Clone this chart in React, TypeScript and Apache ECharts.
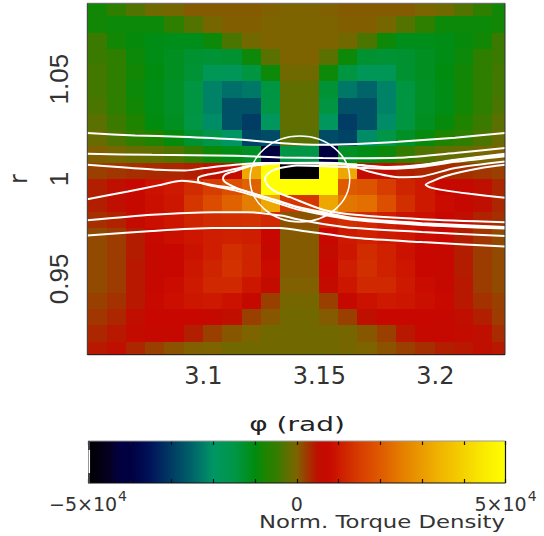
import React, { useEffect, useRef } from "react";
import * as echarts from "echarts";

const phiEdges = [3.05, 3.0583, 3.0666, 3.0749, 3.0832, 3.0916, 3.0999, 3.1082, 3.1165, 3.1248, 3.1331, 3.1415, 3.1498, 3.1581, 3.1664, 3.1747, 3.183, 3.1914, 3.1997, 3.208, 3.2163, 3.2246, 3.23];
const rEdges = [1.088, 1.08145, 1.07331, 1.06516, 1.05702, 1.04887, 1.04073, 1.03258, 1.02444, 1.01629, 1.00815, 1.0, 0.99185, 0.98371, 0.97556, 0.96742, 0.95927, 0.95113, 0.94298, 0.93484, 0.92669, 0.91855, 0.912];

// torque density, in units of 1e4, rows from the top of the plot
const torqueUnit = 10000;
const torqueRows = [
  [-0.85, -0.55, -0.3, -0.1, -0.05, 0.05, 0.05, 0.05, 0.05, 0.02, 0, 0, 0.02, 0.05, 0.05, 0.05, 0.05, -0.02, -0.1, -0.3, -0.55, -0.85],
  [-0.85, -0.9, -0.9, -0.9, -0.55, -0.3, -0.05, 0.03, 0.03, 0, 0, 0, 0, 0.03, 0.03, -0.05, -0.3, -0.55, -0.9, -0.9, -0.9, -0.85],
  [-0.45, -0.85, -0.95, -1.05, -1.1, -1.1, -0.9, -0.35, -0.08, 0, 0, 0, 0, -0.08, -0.35, -0.9, -1.1, -1.1, -1.05, -0.95, -0.85, -0.45],
  [-0.45, -0.55, -0.9, -1.05, -1.15, -1.3, -1.35, -1.3, -0.9, -0.25, 0, 0, -0.25, -0.9, -1.3, -1.35, -1.3, -1.15, -1.05, -0.9, -0.55, -0.45],
  [-0.4, -0.55, -0.85, -1, -1.15, -1.35, -1.75, -1.8, -1.45, -0.9, -0.1, -0.1, -0.9, -1.45, -1.8, -1.75, -1.3, -1.15, -1, -0.85, -0.55, -0.4],
  [-0.4, -0.55, -0.9, -1.05, -1.2, -1.45, -2.2, -2.4, -2.3, -1.45, -0.2, -0.2, -1.35, -2.3, -2.5, -2.2, -1.45, -1.2, -1.05, -0.85, -0.55, -0.4],
  [-0.35, -0.55, -0.85, -1.05, -1.2, -1.45, -2.2, -2.75, -2.75, -1.5, -0.2, -0.2, -1.45, -2.75, -2.75, -2.2, -1.45, -1.2, -1.05, -0.85, -0.55, -0.35],
  [-0.25, -0.45, -0.75, -1, -1.15, -1.5, -2.1, -2.75, -3, -1.9, -0.2, -0.2, -1.9, -3, -2.75, -2.1, -1.45, -1.15, -0.95, -0.75, -0.45, -0.25],
  [-0.15, -0.35, -0.55, -0.75, -0.95, -1.3, -1.55, -2, -2.9, -2.8, -0.25, -0.25, -2.8, -2.9, -2.1, -1.5, -1.2, -0.95, -0.75, -0.55, -0.35, -0.15],
  [0.03, -0.05, -0.15, -0.2, -0.3, -0.5, -0.9, -1.05, -1.2, -4, -1.5, -1.5, -4, -1.2, -1.05, -0.9, -0.5, -0.3, -0.2, -0.15, -0.05, 0.03],
  [0.2, 0.25, 0.3, 0.33, 0.35, 0.4, 0.5, 0.65, 3.2, 5, -5, -5, 5, 3.2, 0.65, 0.55, 0.4, 0.35, 0.33, 0.3, 0.25, 0.2],
  [0.4, 0.5, 0.75, 0.9, 1, 1.25, 1.5, 1.8, 2.1, 5, 5, 5, 5, 2, 1.9, 1.5, 1.15, 1, 0.75, 0.7, 0.5, 0.35],
  [0.4, 0.5, 0.7, 0.85, 0.95, 1.4, 1.75, 2.1, 2.5, 3.2, 1.4, 1.4, 3.2, 2.4, 2.3, 1.8, 1.3, 1, 0.8, 0.7, 0.5, 0.35],
  [0.3, 0.38, 0.65, 0.85, 0.95, 1.15, 1.25, 1.3, 1.35, 1.2, 0.1, 0.1, 1.15, 1.3, 1.2, 1.05, 0.9, 0.85, 0.75, 0.55, 0.38, 0.3],
  [0.15, 0.22, 0.42, 0.72, 0.85, 0.95, 1.05, 1.1, 1.05, 0.75, 0.05, 0.05, 0.75, 1, 1.1, 1, 0.95, 0.8, 0.72, 0.42, 0.25, 0.15],
  [0.15, 0.22, 0.42, 0.7, 0.75, 0.9, 1.05, 1.3, 1.15, 0.7, 0.05, 0.05, 0.65, 0.95, 1.25, 1.1, 0.9, 0.75, 0.7, 0.42, 0.22, 0.15],
  [0.15, 0.22, 0.45, 0.7, 0.75, 0.95, 1.15, 1.35, 1.15, 0.8, 0.05, 0.05, 0.75, 1.05, 1.3, 1.1, 0.95, 0.75, 0.7, 0.42, 0.22, 0.15],
  [0.15, 0.22, 0.45, 0.7, 0.8, 1, 1.2, 1.2, 0.95, 0.65, 0.02, 0.02, 0.65, 0.95, 1.2, 1.2, 1, 0.8, 0.7, 0.45, 0.22, 0.15],
  [0.2, 0.28, 0.45, 0.72, 0.85, 0.95, 1, 0.9, 0.7, 0.2, -0.05, -0.05, 0.2, 0.7, 0.9, 1, 0.95, 0.85, 0.72, 0.45, 0.28, 0.2],
  [0.25, 0.35, 0.55, 0.75, 0.75, 0.75, 0.7, 0.55, 0.2, 0.07, -0.08, -0.08, 0.05, 0.2, 0.5, 0.75, 0.75, 0.75, 0.7, 0.55, 0.4, 0.22],
  [0.35, 0.45, 0.65, 0.7, 0.7, 0.4, 0.2, 0.07, 0, -0.08, -0.08, -0.08, -0.08, -0.05, 0.07, 0.2, 0.45, 0.7, 0.7, 0.65, 0.5, 0.32],
  [0.45, 0.5, 0.35, 0.2, 0.1, 0.02, 0, -0.08, -0.08, -0.08, -0.08, -0.08, -0.08, -0.05, 0, 0.1, 0.2, 0.3, 0.4, 0.45, 0.5, 0.45],
];

// colour table, evenly spaced from -5e4 to +5e4
const colorTable = [
  "#000000", "#020010", "#050020", "#030040", "#000041", "#00084E", "#00145A", "#00285F", "#003C64", "#005066",
  "#006469", "#007D68", "#009664", "#009655", "#009646", "#00912B", "#008C0F", "#1E8400", "#327D00", "#5A7000",
  "#7D6400", "#A03700", "#BE0F00", "#C80800", "#CD1900", "#D12C00", "#D73C00", "#DB4B00", "#DE5A00", "#E16C00",
  "#E47D00", "#E78C00", "#EB9B00", "#EDAA00", "#F0B900", "#F2C400", "#F5D200", "#F7DE00", "#FAEB00", "#FCF500", "#FFFF00",
];

// white field lines as [phi, r]
const fieldLines: number[][][] = [
  [[3.05, 1.023], [3.0706, 1.0218], [3.0899, 1.0212], [3.1136, 1.0199], [3.1343, 1.0179], [3.1503, 1.0171], [3.1662, 1.0175], [3.1839, 1.0186], [3.2085, 1.0207], [3.23, 1.023]],
  [[3.05, 1.0126], [3.0779, 1.0121], [3.1136, 1.0116], [3.1343, 1.0108], [3.1516, 1.0105], [3.1675, 1.0104], [3.1839, 1.0106], [3.2085, 1.013], [3.23, 1.0155]],
  [[3.05, 1.0071], [3.0632, 1.006], [3.0805, 1.0046], [3.0921, 1.0043], [3.1007, 1.0055], [3.1136, 1.0071], [3.1257, 1.008], [3.1404, 1.0079], [3.1546, 1.0076], [3.1654, 1.0071], [3.1796, 1.006], [3.1942, 1.0071], [3.2085, 1.0096], [3.23, 1.0126]],
  [[3.23, 1.0114], [3.2085, 1.0086], [3.1942, 1.0061], [3.1796, 1.0051], [3.1675, 1.0056], [3.1546, 1.0063], [3.1404, 1.0068], [3.133, 1.0055], [3.1296, 1.0041], [3.1274, 1.0021], [3.1266, 1.0001], [3.127, 0.9981], [3.1287, 0.9956], [3.1317, 0.9933], [3.1373, 0.9909], [3.1516, 0.9846], [3.1654, 0.9821], [3.1942, 0.9799], [3.23, 0.9784]],
  [[3.23, 1.0088], [3.2085, 1.0055], [3.1942, 1.0013], [3.1839, 1.0009], [3.1718, 1.0036], [3.161, 1.0076], [3.1503, 1.0081], [3.133, 1.008], [3.1201, 1.0064], [3.1136, 1.0039], [3.1111, 1.0031], [3.1093, 1.0021], [3.1085, 1.0004], [3.1089, 0.9991], [3.1102, 0.9978], [3.1145, 0.9954], [3.1214, 0.9928], [3.1309, 0.9896], [3.1404, 0.9861], [3.1516, 0.9833], [3.1654, 0.9803], [3.1942, 0.9779], [3.23, 0.976]],
  [[3.23, 1.0121], [3.2085, 1.0094], [3.1942, 1.0069], [3.1796, 1.0058], [3.1654, 1.0071], [3.1503, 1.0079], [3.133, 1.0079], [3.1201, 1.0066], [3.1136, 1.005], [3.1063, 1.0031], [3.1007, 1.0019], [3.098, 1.0009], [3.0977, 0.9994], [3.0986, 0.9981], [3.105, 0.9963], [3.1136, 0.9943], [3.1214, 0.9918], [3.1309, 0.9883], [3.1404, 0.9848], [3.1516, 0.9821], [3.1654, 0.9794], [3.1942, 0.977], [3.23, 0.9752]],
  [[3.05, 0.9899], [3.0675, 0.9937], [3.0805, 0.9968], [3.0908, 0.9991], [3.0977, 0.9983], [3.105, 0.9968], [3.1136, 0.9953], [3.1214, 0.9928], [3.1309, 0.9893], [3.1404, 0.9858], [3.1516, 0.9828], [3.1654, 0.9799], [3.1942, 0.9775], [3.23, 0.9757]],
  [[3.05, 0.9793], [3.0779, 0.9821], [3.1042, 0.9834], [3.1188, 0.9834], [3.1343, 0.9816], [3.1404, 0.9798], [3.1516, 0.9775], [3.1654, 0.9754], [3.1942, 0.9734], [3.23, 0.9715]],
  [[3.05, 0.9717], [3.0779, 0.974], [3.1042, 0.9754], [3.133, 0.9754], [3.1417, 0.9742], [3.1662, 0.9704], [3.1942, 0.9684], [3.23, 0.9662]],
  [[3.23, 1.0071], [3.2192, 1.0054], [3.2106, 1.0034], [3.2041, 1.0014], [3.199, 0.9991], [3.1958, 0.9971], [3.1977, 0.9958], [3.2041, 0.9943], [3.2149, 0.9926], [3.23, 0.9906]],
];

const hillCenter = [3.1416, 1.0];
const hillRadius = 0.0215;

const phiTicks = [3.1, 3.15, 3.2];
const rTicks = [0.95, 1, 1.05];

const LEFT = 87.3, TOP = 3.3, W = 417.7, H = 351.4;
const BAR_LEFT = 88, BAR_TOP = 441, BAR_W = 417.5, BAR_H = 42;

export default function App() {
  const ref = useRef<HTMLDivElement>(null);
  useEffect(() => {
    const chart = echarts.init(ref.current!, undefined, { renderer: "svg" });
    const cells: number[][] = [];
    torqueRows.forEach((row, j) =>
      row.forEach((v, i) => cells.push([phiEdges[i], rEdges[j + 1], phiEdges[i + 1], rEdges[j], v * torqueUnit]))
    );
    const barLabel = (v: number) => {
      if (v === -50000) return "{t|\u22125\u00d710}{s|4}";
      if (v === 50000) return "{t|5\u00d710}{s|4}";
      if (v === 0) return "{t|0}";
      return "";
    };
    const line = (x1: number, y1: number, x2: number, y2: number, stroke: string, lineWidth = 1) => ({
      type: "line", z: 100, silent: true, shape: { x1, y1, x2, y2 }, style: { stroke, lineWidth },
    });
    chart.setOption({
      animation: false,
      backgroundColor: "#ffffff",
      grid: [
        { left: LEFT, top: TOP, width: W, height: H, outerBoundsMode: "none" },
        { left: BAR_LEFT, top: BAR_TOP, width: BAR_W, height: BAR_H, z: 20, outerBoundsMode: "none" },
      ],
      xAxis: [
        {
          type: "value", gridIndex: 0, min: 3.05, max: 3.23, splitLine: { show: false },
          axisLine: { show: false }, axisTick: { show: false },
          axisLabel: { customValues: phiTicks, formatter: (v: number) => String(v), fontFamily: "DejaVu Sans", fontSize: 24, color: "#333", margin: 9, hideOverlap: false },
        },
        {
          type: "value", gridIndex: 1, min: -50000, max: 50000, interval: 10000, z: 20, splitLine: { show: false },
          axisLine: { show: false }, axisTick: { show: true, inside: true, length: 4, lineStyle: { color: "#111", width: 1.2 } },
          axisLabel: {
            formatter: barLabel, margin: 6, color: "#333", fontFamily: "DejaVu Sans", showMinLabel: true, showMaxLabel: true, hideOverlap: false,
            rich: {
              t: { fontSize: 19, fontFamily: "DejaVu Sans", color: "#333", verticalAlign: "bottom", lineHeight: 24 },
              s: { fontSize: 14, fontFamily: "DejaVu Sans", color: "#333", verticalAlign: "top", lineHeight: 16, padding: [0, 0, 0, 1] },
            },
          },
        },
        {
          type: "value", gridIndex: 1, position: "top", min: -50000, max: 50000, interval: 10000, z: 20, splitLine: { show: false },
          axisLine: { show: false }, axisLabel: { show: false },
          axisTick: { show: true, inside: true, length: 4, lineStyle: { color: "#111", width: 1.2 } },
        },
      ],
      yAxis: [
        {
          type: "value", gridIndex: 0, min: 0.912, max: 1.088, splitLine: { show: false },
          axisLine: { show: false }, axisTick: { show: false },
          name: "r", nameLocation: "middle", nameRotate: 90, nameGap: 56,
          nameTextStyle: { fontFamily: "DejaVu Sans", fontSize: 24, color: "#333" },
          axisLabel: { customValues: rTicks, formatter: (v: number) => String(v), rotate: 90, fontFamily: "Liberation Sans Narrow, Liberation Sans", fontSize: 26, color: "#333", margin: 15, align: "center", verticalAlign: "bottom" },
        },
        { type: "value", gridIndex: 1, min: 0, max: 1, show: false },
      ],
      visualMap: {
        type: "continuous", show: true, seriesIndex: 0, dimension: 4, min: -50000, max: 50000,
        orient: "horizontal", left: BAR_LEFT, top: BAR_TOP, itemWidth: BAR_H, itemHeight: BAR_W, padding: 0,
        text: null, calculable: false, showLabel: false, hoverLink: false, realtime: false,
        inRange: { color: colorTable },
      },
      series: [
        {
          type: "custom", xAxisIndex: 0, yAxisIndex: 0, clip: true, z: 2, silent: true,
          encode: { x: [0, 2], y: [1, 3] },
          data: cells,
          renderItem: (_p: any, api: any) => {
            const a = api.coord([api.value(0), api.value(3)]);
            const b = api.coord([api.value(2), api.value(1)]);
            const x0 = Math.round(a[0]), y0 = Math.round(a[1]);
            return {
              type: "rect",
              shape: { x: x0, y: y0, width: Math.round(b[0]) - x0, height: Math.round(b[1]) - y0 },
              style: { fill: api.visual("color") },
            };
          },
        },
        ...fieldLines.map((d) => ({
          type: "line", xAxisIndex: 0, yAxisIndex: 0, data: d, showSymbol: false, symbol: "none", smooth: 0.25, z: 3, silent: true,
          lineStyle: { color: "#ffffff", width: 2 },
        })),
        {
          type: "custom", xAxisIndex: 0, yAxisIndex: 0, clip: true, z: 4, silent: true,
          encode: { x: 0, y: 1 },
          data: [[hillCenter[0], hillCenter[1], hillRadius]],
          renderItem: (_p: any, api: any) => {
            const c = api.coord([api.value(0), api.value(1)]);
            const s = api.size([api.value(2), api.value(2)]);
            return {
              type: "ellipse",
              shape: { cx: c[0], cy: c[1], rx: s[0], ry: s[1] },
              style: { fill: "none", stroke: "#ffffff", lineWidth: 1.5 },
            };
          },
        },
      ],
      graphic: [
        { type: "text", z: 100, silent: true, x: 297, y: 424, scaleX: 1.4, style: { text: "\u03c6 (rad)", fontFamily: "DejaVu Sans", fontSize: 20, fill: "#222", align: "center", verticalAlign: "middle" } },
        { type: "text", z: 100, silent: true, x: 505, y: 522, scaleX: 1.34, style: { text: "Norm. Torque Density", fontFamily: "DejaVu Sans", fontSize: 17, fill: "#333", align: "right", verticalAlign: "middle" } },
        line(LEFT, TOP, LEFT + W, TOP, "#666666"),
        line(LEFT, TOP, LEFT, TOP + H, "#444444"),
        line(LEFT + W, TOP, LEFT + W, TOP + H, "#333333"),
        line(LEFT, TOP + H, LEFT + W, TOP + H, "#111111"),
        line(BAR_LEFT, BAR_TOP, BAR_LEFT + BAR_W, BAR_TOP, "#999999", 1.2),
        line(BAR_LEFT, BAR_TOP + BAR_H, BAR_LEFT + BAR_W, BAR_TOP + BAR_H, "#111111", 1.2),
        line(BAR_LEFT + BAR_W, BAR_TOP, BAR_LEFT + BAR_W, BAR_TOP + BAR_H, "#111111", 1.2),
        line(BAR_LEFT + 1, BAR_TOP, BAR_LEFT + 1, BAR_TOP + BAR_H, "#444444", 2),
        line(BAR_LEFT + 1.3, 450, BAR_LEFT + 1.3, 473, "#ffffff", 1.5),
      ],
    });
    return () => chart.dispose();
  }, []);
  return <div ref={ref} style={{ position: "fixed", left: 0, top: 0, width: 544, height: 536 }} />;
}
